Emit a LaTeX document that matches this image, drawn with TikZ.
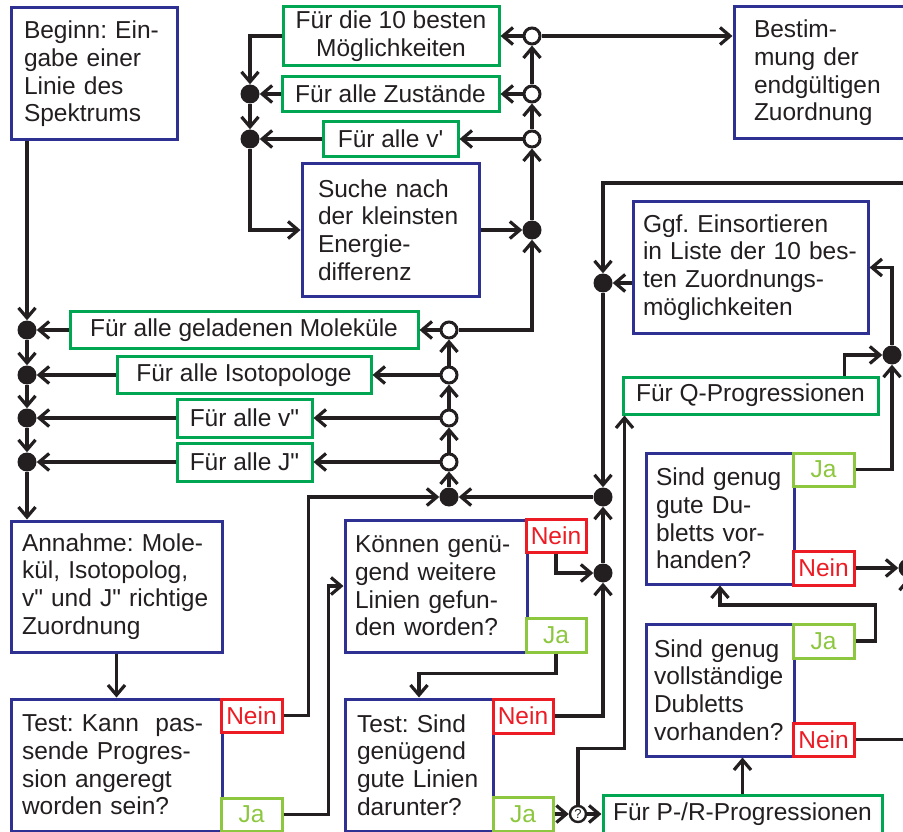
\documentclass[tikz,border=0pt]{standalone}
\usepackage{fontspec}
\newfontfamily\diafont{Liberation Sans}
\usepackage{tikz}
\usetikzlibrary{arrows.meta}
\definecolor{procblue}{RGB}{46,49,146}
\definecolor{loopgreen}{RGB}{0,166,81}
\definecolor{neinred}{RGB}{237,28,36}
\definecolor{jagreen}{RGB}{141,198,63}
\definecolor{ink}{RGB}{35,31,32}
\frenchspacing

\begin{document}
\begin{tikzpicture}[x=1pt,y=-1pt,font=\diafont\fontsize{24.5}{27.7}\selectfont]
  \tikzset{proc/.style={draw=procblue,fill=white,line width=3pt,align=left,inner sep=0pt,text=ink}}
  \tikzset{loopbox/.style={draw=loopgreen,fill=white,line width=3pt,align=center,inner sep=0pt,text=ink}}
  \tikzset{ja/.style={draw=jagreen,fill=white,line width=3pt,inner sep=0pt,text=jagreen,minimum width=61pt,minimum height=33pt}}
  \tikzset{nein/.style={draw=neinred,fill=white,line width=3pt,inner sep=0pt,text=neinred,minimum width=61pt,minimum height=33pt}}
  \tikzset{dot/.style={circle,fill=ink,inner sep=0pt,minimum size=19pt}}
  \tikzset{loopdot/.style={circle,draw=ink,fill=white,line width=3pt,inner sep=0pt,minimum size=16pt}}
  \tikzset{flow/.style={draw=ink,line width=3.2pt,-{Straight Barb[length=10pt,width=17pt]}}}
  \path[use as bounding box,clip] (0,0) rectangle (903,832);
  \node[proc,minimum width=166pt,minimum height=132pt,text width=140pt] (begin) at (94,74) {Beginn: Ein-\\gabe einer\\Linie des\\Spektrums};
  \node[proc,minimum width=177pt,minimum height=132pt,text width=145pt] (suche) at (390.5,230) {Suche nach\\der kleinsten\\Energie-\\differenz};
  \node[proc,minimum width=181pt,minimum height=132pt,text width=141pt] (best) at (824.5,73) {Bestim-\\mung der\\endgültigen\\Zuordnung};
  \node[proc,minimum width=235pt,minimum height=131pt,text width=215pt] (ggf) at (750.5,267.5) {Ggf. Einsortieren\\in Liste der 10 bes-\\ten Zuordnungs-\\möglichkeiten};
  \node[proc,minimum width=211pt,minimum height=131pt,text width=189pt] (annahme) at (116.5,586.5) {Annahme: Mole-\\kül, Isotopolog,\\v" und J" richtige\\Zuordnung};
  \node[proc,minimum width=211pt,minimum height=132pt,text width=189pt] (testkann) at (116.5,765) {Test: Kann\ \ pas-\\sende Progres-\\sion angeregt\\worden sein?};
  \node[proc,minimum width=182pt,minimum height=132pt,text width=162pt] (koennen) at (436,586) {Können genü-\\gend weitere\\Linien gefun-\\den worden?};
  \node[proc,minimum width=148pt,minimum height=132pt,text width=124pt] (testsind) at (419,765) {Test: Sind\\genügend\\gute Linien\\darunter?};
  \node[proc,minimum width=148pt,minimum height=131pt,text width=128pt] (gute) at (720,518.5) {Sind genug\\gute Du-\\bletts vor-\\handen?};
  \node[proc,minimum width=148pt,minimum height=132pt,text width=132pt] (voll) at (720,690) {Sind genug\\vollständige\\Dubletts\\vorhanden?};
  \node[loopbox,minimum width=216pt,minimum height=59pt] (best10) at (391,36) {Für die 10 besten\\Möglichkeiten};
  \node[loopbox,minimum width=217pt,minimum height=35pt] (zust) at (390.5,94) {Für alle Zustände};
  \node[loopbox,minimum width=135pt,minimum height=35pt] (vs) at (390.5,139) {Für alle v'};
  \node[loopbox,minimum width=348pt,minimum height=37pt] (mol) at (244,330) {Für alle geladenen Moleküle};
  \node[loopbox,minimum width=254pt,minimum height=37pt] (iso) at (244,375) {Für alle Isotopologe};
  \node[loopbox,minimum width=135pt,minimum height=38pt] (vss) at (244.5,418) {Für alle v"};
  \node[loopbox,minimum width=135pt,minimum height=38pt] (jss) at (244.5,462) {Für alle J"};
  \node[loopbox,minimum width=255pt,minimum height=37pt] (qprog) at (750.5,395.5) {Für Q-Progressionen};
  \node[loopbox,minimum width=279pt,minimum height=38pt] (prprog) at (742.5,814) {Für P-/R-Progressionen};
  \node[nein] (kannNein) at (251.5,715.5) {Nein};
  \node[ja] (kannJa) at (251.5,814.5) {Ja};
  \node[nein,minimum width=60pt] (koenNein) at (556,535.5) {Nein};
  \node[ja,minimum width=60pt,minimum height=34pt] (koenJa) at (556,635) {Ja};
  \node[nein,minimum width=60pt,minimum height=34pt] (sindNein) at (523,716) {Nein};
  \node[ja,minimum width=60pt,minimum height=34pt] (sindJa) at (523,814) {Ja};
  \node[ja] (guteJa) at (823.5,469.5) {Ja};
  \node[nein,minimum height=34pt] (guteNein) at (823.5,568) {Nein};
  \node[ja,minimum height=34pt] (vollJa) at (823.5,641) {Ja};
  \node[nein] (vollNein) at (823.5,739.5) {Nein};
  \node[dot] (jA) at (250,94) {};
  \node[dot] (jB) at (250,139) {};
  \node[loopdot] (oA) at (532,36) {};
  \node[loopdot] (oB) at (532,94) {};
  \node[loopdot] (oC) at (532,139) {};
  \node[dot] (jC) at (532,230) {};
  \node[dot] (jL1) at (27,330) {};
  \node[dot] (jL2) at (27,375) {};
  \node[dot] (jL3) at (27,418) {};
  \node[dot] (jL4) at (27,462) {};
  \node[loopdot] (oM) at (449,330) {};
  \node[loopdot] (oI) at (449,375) {};
  \node[loopdot] (oV) at (449,418) {};
  \node[loopdot] (oJ) at (449,462) {};
  \node[dot] (jF) at (449,497) {};
  \node[dot] (jG) at (603,497) {};
  \node[dot] (jH) at (603,573) {};
  \node[dot] (jK) at (603,283) {};
  \node[dot] (jQ) at (892,355) {};
  \node[dot] (jR) at (908,568) {};
  \node[circle,draw=ink,fill=white,line width=2.4pt,inner sep=0pt,minimum size=16pt,text=ink,font=\diafont\fontsize{13}{13}\selectfont] (q) at (578,814) {?};
  \coordinate (offR) at (912,183);
  \draw[flow] (begin.south -| jL1) -- (jL1);
  \draw[flow] (jL1) -- (jL2);
  \draw[flow] (jL2) -- (jL3);
  \draw[flow] (jL3) -- (jL4);
  \draw[flow] (jL4) -- (annahme.north -| jL4);
  \draw[flow] (mol) -- (jL1);
  \draw[flow] (iso) -- (jL2);
  \draw[flow] (vss) -- (jL3);
  \draw[flow] (jss) -- (jL4);
  \draw[flow] (oM) -- (mol);
  \draw[flow] (oI) -- (iso);
  \draw[flow] (oV) -- (vss);
  \draw[flow] (oJ) -- (jss);
  \draw[flow] (jF) -- (oJ);
  \draw[flow] (oJ) -- (oV);
  \draw[flow] (oV) -- (oI);
  \draw[flow] (oI) -- (oM);
  \draw[flow] (oM) -| (jC);
  \draw[flow] (suche) -- (jC);
  \draw[flow] (jC) -- (oC);
  \draw[flow] (oC) -- (oB);
  \draw[flow] (oB) -- (oA);
  \draw[flow] (oA) -- (best10);
  \draw[flow] (oB) -- (zust);
  \draw[flow] (oC) -- (vs);
  \draw[flow] (best10.west) -| (jA);
  \draw[flow] (zust) -- (jA);
  \draw[flow] (vs) -- (jB);
  \draw[flow] (jA) -- (jB);
  \draw[flow] (jB) |- (suche);
  \draw[flow] (oA) -- (oA -| best.west);
  \draw[flow] (offR) -| (jK);
  \draw[flow] (ggf.west |- jK) -- (jK);
  \draw[flow] (jK) -- (jG);
  \draw[flow] (jG) -- (jF);
  \draw[flow] (jH) -- (jG);
  \draw[flow] (kannNein.east) -- ++(25,0) |- (jF);
  \draw[flow] (koenNein.south) |- (jH);
  \draw[flow] (sindNein.east) -| (jH);
  \draw[flow] (kannJa.east) -- ++(45,0) |- (koennen.west);
  \draw[flow] (koenJa.south) -- ++(0,20) -| (testsind.north);
  \draw[flow] (annahme) -- (testkann);
  \draw[flow] (sindJa) -- (q);
  \draw[flow] (q) -- (prprog);
  \draw[flow] (q.north) -- ++(0,-56) -| ([xshift=3pt]qprog.south west);
  \draw[flow] ([xshift=-35pt]qprog.north east) |- (jQ);
  \draw[flow] (guteJa.east) -| (jQ);
  \draw[flow] (jQ) |- (ggf.east);
  \draw[flow] (vollJa.east) -- ++(20,0) -- ++(0,-36) -| (gute.south);
  \draw[flow] (prprog.north) -- (prprog.north |- voll.south);
  \draw[flow] (guteNein) -- (jR);
  \draw[flow] (vollNein.east) -| (jR);
\end{tikzpicture}
\end{document}
